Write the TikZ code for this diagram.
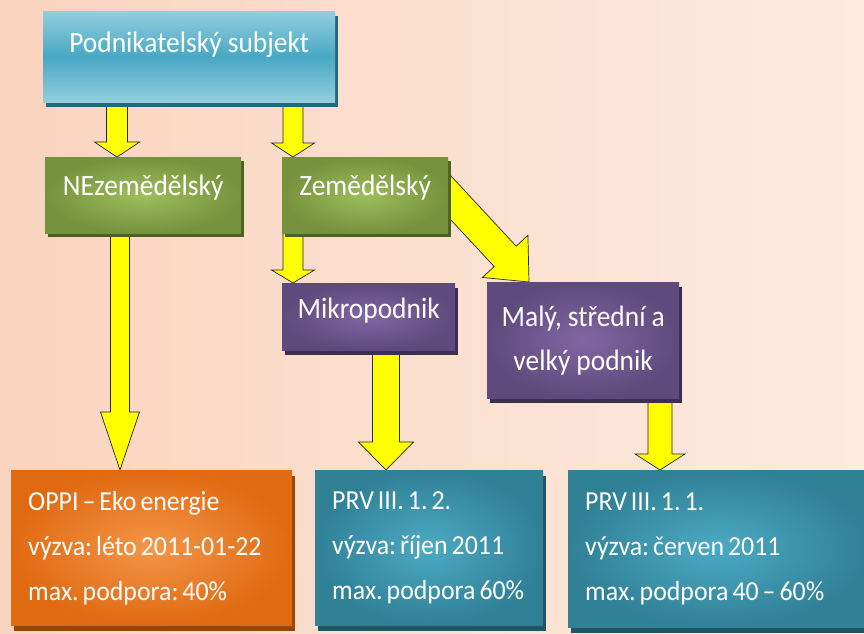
\documentclass[tikz,border=0pt]{standalone}
\usepackage{fontspec}
\setmainfont{Carlito}[FakeStretch=0.93]
\newfontfamily\infofont{Carlito}[FakeStretch=0.94, Ligatures=TeX]
\usepackage{tikz}
\usetikzlibrary{calc, positioning, shadows, backgrounds}
\definecolor{bgLeft}{RGB}{249, 212, 190}
\definecolor{bgRight}{RGB}{253, 235, 224}
\definecolor{subjLight}{RGB}{146, 206, 222}
\definecolor{subjDark}{RGB}{72, 168, 196}
\definecolor{subjShadow}{RGB}{38, 104, 122}
\definecolor{greenOut}{RGB}{118, 146, 60}
\definecolor{greenIn}{RGB}{158, 190, 92}
\definecolor{greenShadow}{RGB}{76, 96, 38}
\definecolor{purpleOut}{RGB}{94, 74, 124}
\definecolor{purpleIn}{RGB}{130, 102, 164}
\definecolor{purpleShadow}{RGB}{60, 46, 80}
\definecolor{orangeOut}{RGB}{224, 106, 18}
\definecolor{orangeIn}{RGB}{244, 150, 72}
\definecolor{orangeShadow}{RGB}{150, 70, 10}
\definecolor{tealOut}{RGB}{48, 128, 150}
\definecolor{tealIn}{RGB}{76, 170, 196}
\definecolor{tealShadow}{RGB}{30, 84, 100}
\definecolor{arrowYellow}{RGB}{255, 255, 0}

% block arrow: from, tip, half shaft, half head, head length
\newcommand{\blockarrow}[5]{%
	\draw[yarrow] let \p1=($(#2)-(#1)$), \n1={atan2(\y1,\x1)}, \n2={veclen(\x1,\y1)} in
		($(#1)+(\n1+90:#3)$) -- ++(\n1:{\n2-#5}) -- ++(\n1+90:{#4-#3}) -- (#2)
		-- ($(#1)+(\n1:{\n2-#5})+(\n1-90:#4)$) -- ++(\n1+90:{#4-#3})
		-- ($(#1)+(\n1-90:#3)$) -- cycle;}

\begin{document}
\frenchspacing
\begin{tikzpicture}[x=1pt, y=-1pt,
		box/.style={rectangle, anchor=north west, inner sep=0pt, text=white,
			font=\fontsize{29.5}{44}\selectfont, execute at begin node={\spaceskip=6pt\relax}},
		infobox/.style={box, align=left, inner xsep=17pt, minimum height=155pt,
			font=\infofont\fontsize{27.5}{45}\selectfont, execute at begin node={\spaceskip=4pt\relax}},
		subjbox/.style={box, top color=subjLight, bottom color=subjLight, middle color=subjDark,
			drop shadow={shadow xshift=3pt, shadow yshift=-5pt, fill=subjShadow, opacity=1}},
		greenbox/.style={box, inner color=greenIn, outer color=greenOut,
			drop shadow={shadow xshift=3pt, shadow yshift=-4pt, fill=greenShadow, opacity=1}},
		purplebox/.style={box, inner color=purpleIn, outer color=purpleOut,
			drop shadow={shadow xshift=3pt, shadow yshift=-5pt, fill=purpleShadow, opacity=1}},
		orangebox/.style={infobox, inner color=orangeIn, outer color=orangeOut,
			drop shadow={shadow xshift=3pt, shadow yshift=-6pt, fill=orangeShadow, opacity=1}},
		tealbox/.style={infobox, inner color=tealIn, outer color=tealOut,
			drop shadow={shadow xshift=3pt, shadow yshift=-6pt, fill=tealShadow, opacity=1}},
		yarrow/.style={fill=arrowYellow, draw=black!85, line width=0.7pt, line join=miter}]
	\useasboundingbox (0,0) rectangle (864,633);
	\begin{scope}[on background layer]
		\fill[left color=bgLeft, right color=bgRight] (0,0) rectangle (864,633);
	\end{scope}
	
	% Boxes
	\node[subjbox, minimum width=292pt, text height=41pt, text depth=50pt] (subj) at (43,11) {Podnikatelský subjekt};
	
	\node[greenbox, minimum width=196pt, text height=38pt, text depth=38pt] (nezem) at (45,157) {NEzemědělský};
	\node[greenbox, minimum width=166pt, text height=38pt, text depth=38pt] (zem) at (282,157) {Zemědělský};
	
	\node[purplebox, minimum width=173pt, text height=35pt, text depth=32pt] (mikro) at (282,283) {Mikropodnik};
	\node[purplebox, text width=192pt, minimum height=116pt, align=center] (maly) at (487,282) {Malý, střední a\\velký podnik};
	
	\node[orangebox, text width=247pt] (oppi) at (11,470)
		{OPPI -- Eko energie\\výzva: léto 2011-01-22\\max. podpora: 40\%};
	\node[tealbox, text width=194pt] (prv12) at (315,470)
		{PRV III. 1. 2.\\výzva: říjen 2011\\max. podpora 60\%};
	\node[tealbox, text width=266pt, minimum height=157pt] (prv11) at (568,470)
		{PRV III. 1. 1.\\výzva: červen 2011\\max. podpora 40 -- 60\%};
	
	% Arrows
	\coordinate (xa) at (117,0);
	\coordinate (xb) at (293,0);
	\coordinate (xc) at (120,0);
	\coordinate (xd) at (386,0);
	\coordinate (xe) at (660,0);
	\coordinate (xf) at (529,0);
	\coordinate (diagTip) at (maly.north -| xf);
	\coordinate (diagStart) at ($(zem.east)!-0.25!(diagTip)$);
	\begin{scope}[on background layer]
		\foreach \from/\to/\s/\h/\l in {subj.south -| xa/nezem.north -| xa/10.5pt/22.5pt/15pt,
			subj.south -| xb/zem.north -| xb/10pt/21.5pt/14pt,
			nezem.south -| xc/oppi.north -| xc/9.5pt/19.5pt/58pt,
			zem.south -| xb/mikro.north -| xb/10pt/21.5pt/13pt,
			mikro.south -| xd/prv12.north -| xd/13.5pt/27.5pt/28pt,
			maly.south -| xe/prv11.north -| xe/12pt/25pt/16pt}
		{
			\blockarrow{\from}{\to}{\s}{\h}{\l}
		}
		\blockarrow{diagStart}{diagTip}{15pt}{31pt}{35pt}
	\end{scope}
	
\end{tikzpicture}
\end{document}
